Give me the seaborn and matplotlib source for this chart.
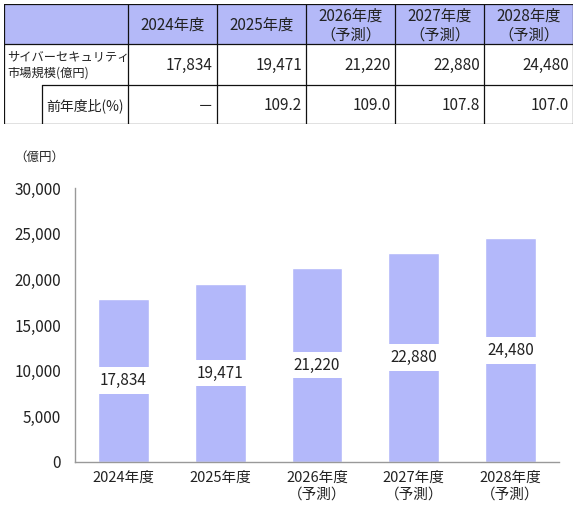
import matplotlib
matplotlib.use("Agg")
import matplotlib.pyplot as plt
import seaborn as sns
import pandas as pd

# ---- data ----
years = ["2024年度", "2025年度", "2026年度", "2027年度", "2028年度"]
forecast = [False, False, True, True, True]
market = [17834, 19471, 21220, 22880, 24480]
yoy = ["－", "109.2", "109.0", "107.8", "107.0"]
row_label_1 = "サイバーセキュリティ\n市場規模(億円)"
row_label_2 = "前年度比(%)"
unit_label = "（億円）"
yticks = [0, 5000, 10000, 15000, 20000, 25000, 30000]

BAR = "#b3b8fa"
HEAD = "#b4b9f8"
TXT = "#222222"

sns.set_theme(style="white")
plt.rcParams["font.family"] = ["Noto Sans CJK JP", "DejaVu Sans"]

W, H = 578, 508
fig = plt.figure(figsize=(W / 100, H / 100), dpi=100)

def px_axes(x0, y0, x1, y1):
    return fig.add_axes([x0 / W, 1 - y1 / H, (x1 - x0) / W, (y1 - y0) / H])

# ---- table ----
tax = px_axes(4, 4, 573, 124)
tax.set_xlim(4, 573)
tax.set_ylim(124, 4)
tax.axis("off")
col_edges = [4, 128, 217, 306, 395, 484, 573]
row_edges = [4, 44, 85, 124]
sub_edge = 42

tax.fill_between([col_edges[0], col_edges[-1]], row_edges[0], row_edges[1], color=HEAD, lw=0)
lc = "#111111"
lw = 0.9
tax.plot([col_edges[0], col_edges[-1]], [row_edges[0]] * 2, color=lc, lw=lw)
tax.plot([col_edges[0], col_edges[-1]], [row_edges[1]] * 2, color=lc, lw=lw)
tax.plot([sub_edge, col_edges[-1]], [row_edges[2]] * 2, color=lc, lw=lw)
tax.plot([col_edges[0], col_edges[-1]], [row_edges[3]] * 2, color=lc, lw=lw)
for xe in col_edges:
    tax.plot([xe, xe], [row_edges[0], row_edges[3]], color=lc, lw=lw)
tax.plot([sub_edge, sub_edge], [row_edges[2], row_edges[3]], color=lc, lw=lw)

fs = 11
for i, (yr, fc) in enumerate(zip(years, forecast)):
    cx = (col_edges[i + 1] + col_edges[i + 2]) / 2
    label = yr + ("\n（予測）" if fc else "")
    tax.text(cx, (row_edges[0] + row_edges[1]) / 2 + 1.5, label, ha="center", va="center",
             fontsize=fs, color=TXT, linespacing=1.1)
    rx = col_edges[i + 2] - 4
    tax.text(rx, (row_edges[1] + row_edges[2]) / 2 + 1, f"{market[i]:,}", ha="right", va="center",
             fontsize=fs, color=TXT)
    tax.text(rx, (row_edges[2] + row_edges[3]) / 2 + 1.5, yoy[i], ha="right", va="center",
             fontsize=fs, color=TXT)
tax.text(col_edges[0] + 3, (row_edges[1] + row_edges[2]) / 2 + 1, row_label_1, ha="left", va="center",
         fontsize=8.8, color=TXT, linespacing=1.2)
tax.text((sub_edge + col_edges[1]) / 2, (row_edges[2] + row_edges[3]) / 2 + 1.5, row_label_2,
         ha="center", va="center", fontsize=10, color=TXT)

# ---- bar chart ----
ax = px_axes(75, 188, 559, 462)
xlabels = [y + ("\n（予測）" if f else "") for y, f in zip(years, forecast)]
df = pd.DataFrame({"year": xlabels, "value": market})
sns.barplot(data=df, x="year", y="value", ax=ax, color=BAR, width=0.526, saturation=1)
ax.set_xlim(-0.5, len(years) - 0.5)
ax.set_ylim(0, 30000)
ax.set_yticks(yticks)
ax.set_yticklabels([f"{v:,}" for v in yticks], fontsize=fs, color=TXT)
ax.tick_params(axis="x", labelsize=fs - 0.5, colors=TXT, length=0, pad=6)
ax.tick_params(axis="y", length=0, pad=10)
for lbl in ax.get_xticklabels():
    lbl.set_linespacing(1.3)
ax.set_xlabel("")
ax.set_ylabel("")
for s in ["top", "right"]:
    ax.spines[s].set_visible(False)
for s in ["left", "bottom"]:
    ax.spines[s].set_color("#999999")
    ax.spines[s].set_linewidth(1.0)
ax.grid(False)

for i, v in enumerate(market):
    ax.text(i, v / 2, f"{v:,}", ha="center", va="center", fontsize=fs, color=TXT,
            bbox=dict(facecolor="white", edgecolor="none", pad=3.5))

fig.text(14 / W, 1 - 157 / H, unit_label, ha="left", va="center", fontsize=9, color=TXT)

fig.savefig("out.png", dpi=100)
